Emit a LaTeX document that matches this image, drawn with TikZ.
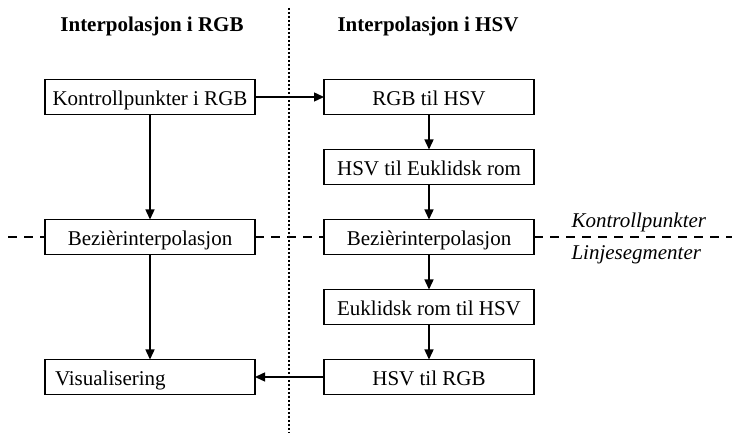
\documentclass[tikz,border=0pt]{standalone}
\usepackage{fontspec}
\setmainfont{Liberation Serif}
\usetikzlibrary{arrows.meta, positioning}

\begin{document}
\begin{tikzpicture}[
  box/.style={draw=black, line width=1.4pt, minimum width=210pt, minimum height=35pt,
              inner sep=0pt, outer sep=0pt, text height=22pt, text depth=4pt,
              font=\fontsize{21}{25}\selectfont, fill=white},
  leftbox/.style={box, text width=190pt, align=left, inner xsep=10pt},
  head/.style={font=\fontsize{21}{25}\selectfont\bfseries, anchor=base},
  note/.style={font=\fontsize{21}{25}\selectfont\itshape, anchor=base west},
  arr/.style={-{Triangle[length=10pt, width=9pt]}, line width=1.4pt, black},
  sep/.style={line width=1.2pt, dash pattern=on 9pt off 7pt},
  divider/.style={line width=1.3pt, dash pattern=on 2pt off 2pt}
]
\useasboundingbox (0pt,0pt) rectangle (732pt,-435pt);
% Headings
\node[head] (hrgb) at (152pt,-32pt) {Interpolasjon i RGB};
\node[head] (hhsv) at (428pt,-32pt) {Interpolasjon i HSV};
% RGB column
\node[box] (kp) at (150pt,-97pt) {Kontrollpunkter i RGB};
\node[box, below=105pt of kp] (bezrgb) {Bezièrinterpolasjon};
\node[leftbox, below=105pt of bezrgb] (vis) {Visualisering};
% HSV column
\node[box] (rgbhsv) at (429pt,-97pt) {RGB til HSV};
\node[box, below=35pt of rgbhsv] (hsveuk) {HSV til Euklidsk rom};
\node[box, below=35pt of hsveuk] (bezhsv) {Bezièrinterpolasjon};
\node[box, below=35pt of bezhsv] (eukhsv) {Euklidsk rom til HSV};
\node[box, below=35pt of eukhsv] (hsvrgb) {HSV til RGB};
% Divider and separator
\coordinate (dtop) at (289pt,-8pt);
\coordinate (dbot) at (289pt,-433pt);
\draw[divider] (dtop) -- (dbot);
\coordinate (sepl) at (8pt,-237pt);
\coordinate (sepr) at (732pt,-237pt);
\draw[sep] (sepl) -- (bezrgb.west);
\draw[sep] (bezrgb.east) -- (bezhsv.west);
\draw[sep] (bezhsv.east) -- (sepr);
\node[note] (kpnote) at (568pt,-228pt) {Kontrollpunkter};
\node[note] (lsnote) at (568pt,-260pt) {Linjesegmenter};
% Arrows
\draw[arr] (kp) -- (bezrgb);
\draw[arr] (bezrgb) -- (vis);
\draw[arr] (kp) -- (rgbhsv);
\draw[arr] (rgbhsv) -- (hsveuk);
\draw[arr] (hsveuk) -- (bezhsv);
\draw[arr] (bezhsv) -- (eukhsv);
\draw[arr] (eukhsv) -- (hsvrgb);
\draw[arr] (hsvrgb) -- (vis);
\end{tikzpicture}
\end{document}
